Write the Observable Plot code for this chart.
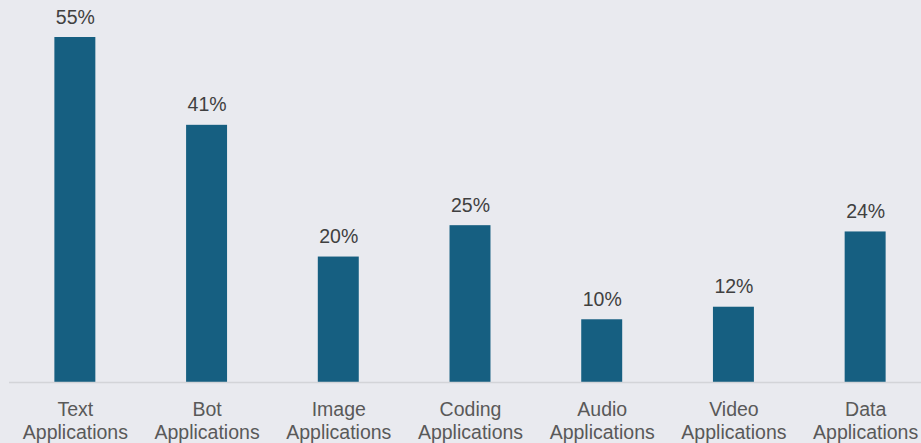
<!DOCTYPE html>
<html>
<head>
<meta charset="utf-8">
<script src="https://cdn.jsdelivr.net/npm/d3@7"></script>
<script src="https://cdn.jsdelivr.net/npm/@observablehq/plot@0.6"></script>
<style>
  html, body { margin: 0; padding: 0; background: #e9eaef; }
  #chart svg { display: block; }
</style>
</head>
<body>
<div id="chart"></div>
<script>
const categories = ["Text Applications", "Bot Applications", "Image Applications", "Coding Applications", "Audio Applications", "Video Applications", "Data Applications"];
const values = [55, 41, 20, 25, 10, 12, 24];
const tickLabels = ["Text\nApplications", "Bot\nApplications", "Image\nApplications", "Coding\nApplications", "Audio\nApplications", "Video\nApplications", "Data\nApplications"];

const data = categories.map((c, i) => ({category: c, value: values[i], tick: tickLabels[i]}));
const tickMap = new Map(categories.map((c, i) => [c, tickLabels[i]]));

const chart = Plot.plot({
  width: 921,
  height: 443,
  marginTop: 37,
  marginBottom: 61,
  marginLeft: 9,
  marginRight: 0,
  style: {background: "#e9eaef", fontFamily: "'Liberation Sans', Arial, sans-serif", overflow: "visible"},
  x: {domain: categories, range: [9, 931], round: false, paddingInner: 0.689, paddingOuter: 0.3445, label: null},
  y: {domain: [0, 55], axis: null},
  marks: [
    Plot.barY(data, {x: "category", y: "value", fill: "#165f81"}),
    Plot.ruleY([0], {stroke: "#d3d4d8", strokeWidth: 1.5}),
    Plot.text(data, {x: "category", y: "value", text: d => d.value + "%", dy: -14, lineAnchor: "bottom", fontSize: 19.5, fill: "#404040"}),
    Plot.axisX({tickSize: 0, tickPadding: 17.5, fontSize: 19.5, lineHeight: 1.18, fill: "#595959", tickFormat: c => tickMap.get(c), label: null})
  ]
});
document.getElementById("chart").appendChild(chart);
</script>
</body>
</html>
